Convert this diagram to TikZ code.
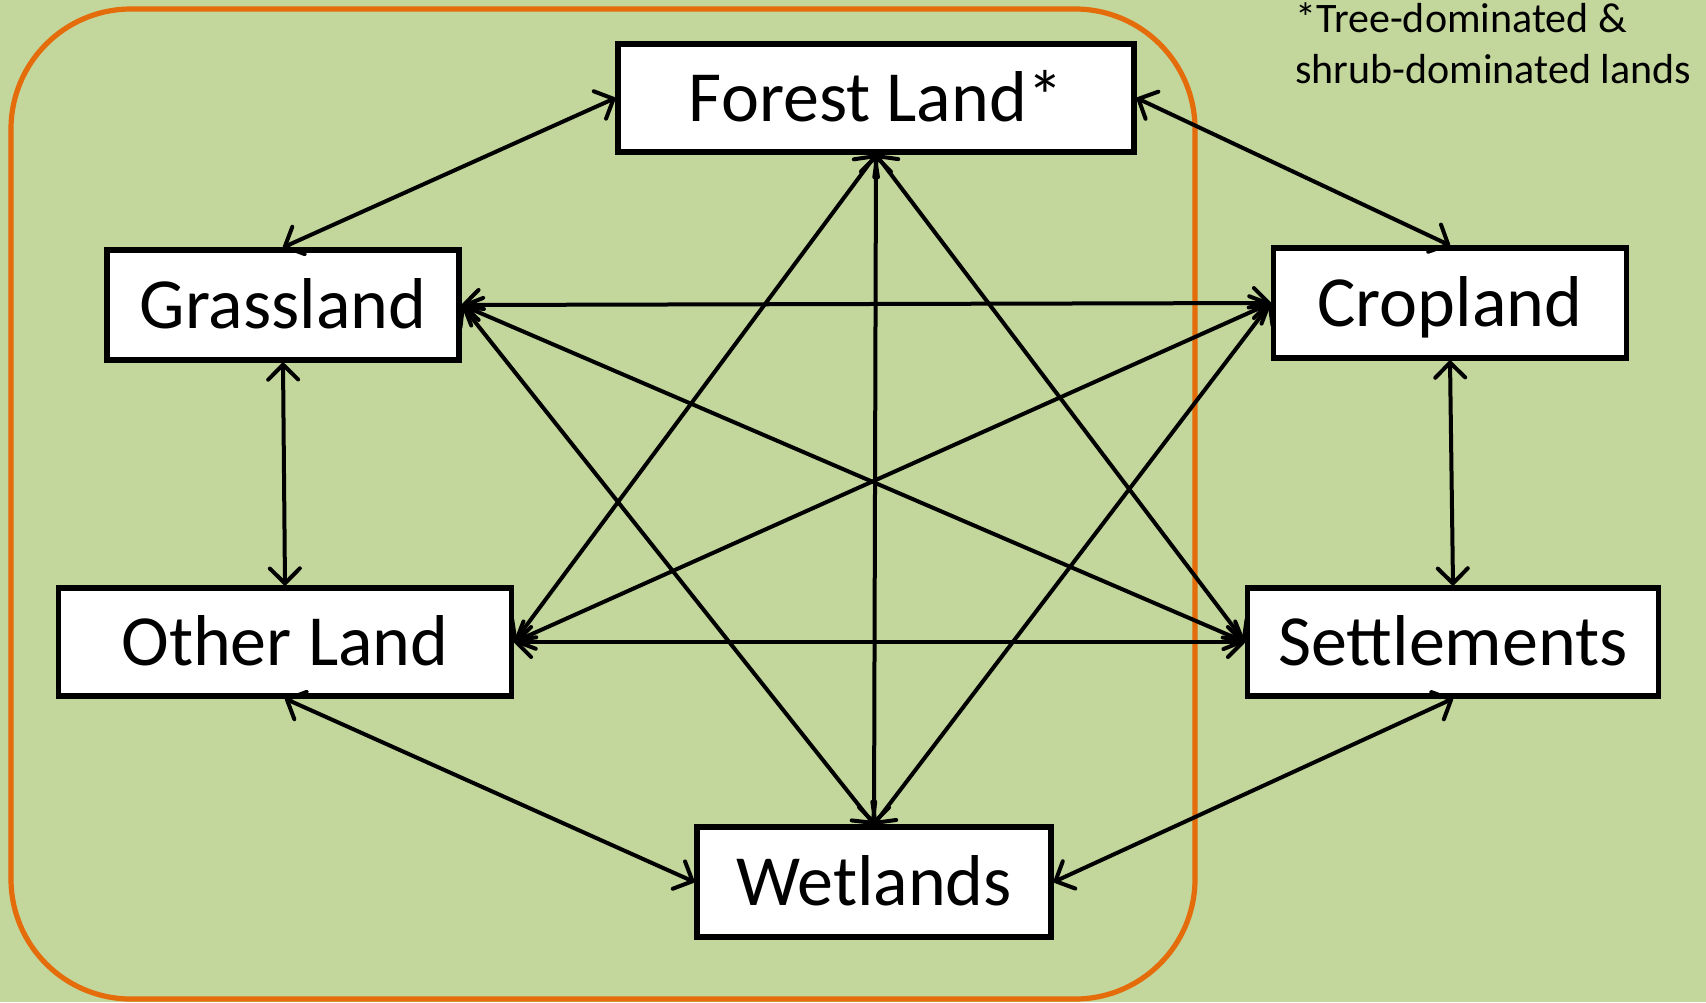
\documentclass[tikz,border=0pt]{standalone}
\usepackage{fontspec}
\setmainfont{Carlito}
\usetikzlibrary{arrows.meta}

\definecolor{landgreen}{HTML}{C3D69B}
\definecolor{frameorange}{HTML}{E46C0A}

\tikzset{
  landbox/.style={draw=black, fill=white, line width=2.6pt, inner sep=0pt,
    text height=23.2pt, text depth=0pt, font=\fontsize{36}{43}\selectfont},
  flow/.style={line width=2pt,
    {Straight Barb[length=7.5pt,width=15pt,round]}-{Straight Barb[length=7.5pt,width=15pt,round]}},
}

\begin{document}
\begin{tikzpicture}[x=0.5pt, y=-0.5pt]
    % background and frame
    \fill[landgreen] (0,0) rectangle (1706,1002);
    \useasboundingbox (0,0) rectangle (1706,1002);
    \draw[frameorange, line width=2.6pt, rounded corners=60pt] (11,9) rectangle (1195,999);

    % land use categories
    \node[landbox, minimum width=258pt, minimum height=54pt] (forest) at (876,98) {Forest Land*};
    \node[landbox, minimum width=176pt, minimum height=55pt] (grass) at (283,305) {Grassland};
    \node[landbox, minimum width=176.5pt, minimum height=55pt] (crop) at (1450,303) {Cropland};
    \node[landbox, minimum width=226.5pt, minimum height=54pt] (other) at (285,642) {Other Land};
    \node[landbox, minimum width=205.5pt, minimum height=54pt] (settle) at (1453,642) {Settlements};
    \node[landbox, minimum width=177pt, minimum height=55pt] (wet) at (874,882) {Wetlands};

    \node[anchor=base west, inner sep=0pt, align=left, font=\fontsize{21}{25.5}\selectfont]
        (note) at (1295,83) {*Tree-dominated \&\\shrub-dominated lands};

    % outer ring
    \draw[flow] (forest.west) -- (grass.north);
    \draw[flow] (forest.east) -- (crop.north);
    \draw[flow] (grass.south) -- (other.north);
    \draw[flow] (crop.south) -- (settle.north);
    \draw[flow] (other.south) -- (wet.west);
    \draw[flow] (settle.south) -- (wet.east);

    % inner conversions
    \draw[flow] (forest.south) -- (wet.north);
    \draw[flow] (forest.south) -- (other.east);
    \draw[flow] (forest.south) -- (settle.west);
    \draw[flow] (grass.east) -- (crop.west);
    \draw[flow] (grass.east) -- (wet.north);
    \draw[flow] (grass.east) -- (settle.west);
    \draw[flow] (crop.west) -- (other.east);
    \draw[flow] (crop.west) -- (wet.north);
    \draw[flow] (other.east) -- (settle.west);
\end{tikzpicture}
\end{document}
